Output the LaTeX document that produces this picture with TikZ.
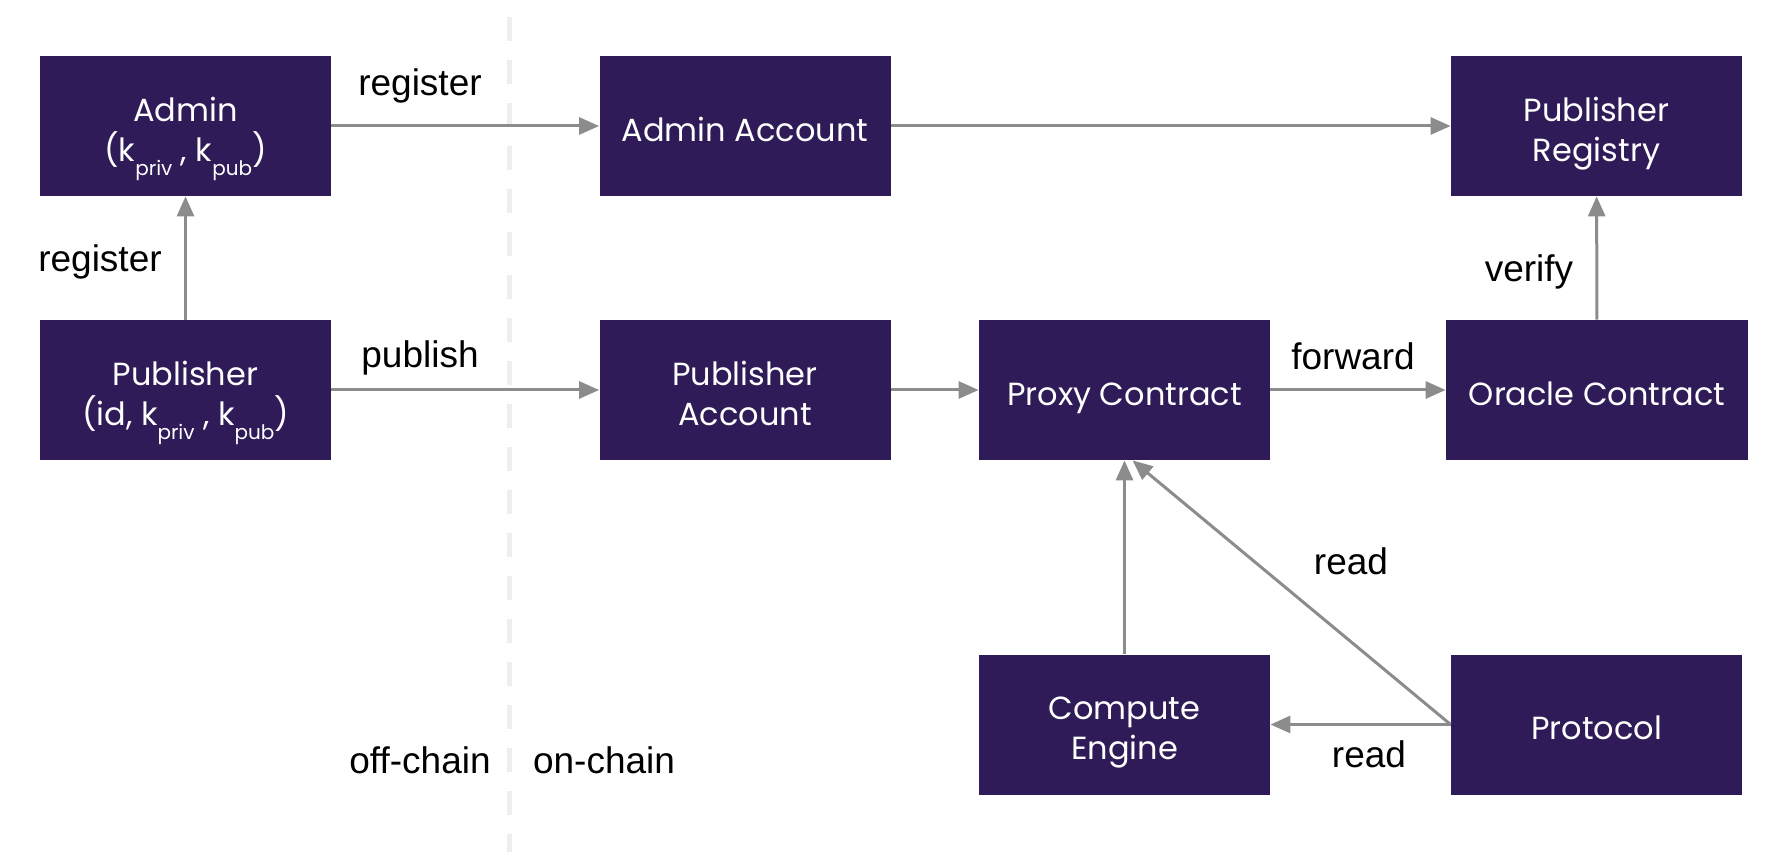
\documentclass[tikz,border=0pt]{standalone}
\usepackage{fontspec}
\setmainfont{Liberation Sans}
\newfontfamily\boxfont{Poppins}
\usetikzlibrary{arrows.meta,calc}
\definecolor{boxfill}{HTML}{2E1B57}
\definecolor{arrgray}{HTML}{8C8C8C}
\definecolor{dashgray}{HTML}{EEEEEE}
\newcommand\sbs[1]{\raisebox{-0.45em}[0pt][0pt]{\fontsize{10}{10}\selectfont #1}}
\newcommand\bl[1]{\rule[-0.14em]{0pt}{1.24em}\smash{#1}}
\begin{document}
\begin{tikzpicture}[x=0.5pt,y=-0.5pt,
 blk/.style={fill=boxfill, draw=none, minimum width=145.5pt, minimum height=70pt, inner sep=0pt, text=white, align=center, font=\boxfont\fontsize{16}{20}\selectfont},
 conn/.style={draw=arrgray, line width=1.5pt, -{Triangle[length=10pt,width=8.5pt]}},
 lbl/.style={font=\fontsize{18.5}{22}\selectfont, inner sep=0pt, text=black}]
\useasboundingbox (0,0) rectangle (1786,860);
% divider
\coordinate (dtop) at (509,17);
\coordinate (dbot) at (509,852);
\draw[dashgray, line width=2.5pt, dash pattern=on 12pt off 9.5pt] (dtop) -- (dbot);
% boxes
\node[blk] (admin) at (185.5,126) {\bl{Admin}\\\bl{(k\sbs{priv} , k\sbs{pub})}};
\node[blk] (adminacc) at (745,126) {\bl{Admin Account}};
\node[blk] (registry) at (1596.5,126) {\bl{Publisher}\\\bl{Registry}};
\node[blk] (pub) at (185.5,390) {\bl{Publisher}\\\bl{(id, k\sbs{priv} , k\sbs{pub})}};
\node[blk] (pubacc) at (745,390) {\bl{Publisher}\\\bl{Account}};
\node[blk] (proxy) at (1124.5,390) {\bl{Proxy Contract}};
\node[blk, minimum width=151pt] (oracle) at (1597,390) {\bl{Oracle Contract}};
\node[blk] (compute) at (1124.5,724.5) {\bl{Compute}\\\bl{Engine}};
\node[blk] (protocol) at (1596.5,724.5) {\bl{Protocol}};
% connectors
\draw[conn] (admin) -- (adminacc);
\draw[conn] (adminacc) -- (registry);
\draw[conn] (pub) -- (admin);
\draw[conn] (pub) -- (pubacc);
\draw[conn] (pubacc) -- (proxy);
\draw[conn] (proxy) -- (oracle);
\draw[conn] (oracle) -- (registry);
\draw[conn] (compute) -- (proxy);
\draw[conn] (protocol.west) -- ($(proxy.south)+(8,0)$);
\draw[conn] (protocol) -- (compute);
% labels
\node[lbl] (l1) at (420,86) {register};
\node[lbl] (l2) at (100,262) {register};
\node[lbl] (l3) at (420,358) {publish};
\node[lbl] (l4) at (1353,356) {forward};
\node[lbl] (l5) at (1529,272) {verify};
\node[lbl] (l6) at (1351,561) {read};
\node[lbl] (l7) at (1369,754) {read};
\node[lbl] (l8) at (420,760) {off-chain};
\node[lbl] (l9) at (604,760) {on-chain};
\end{tikzpicture}
\end{document}
